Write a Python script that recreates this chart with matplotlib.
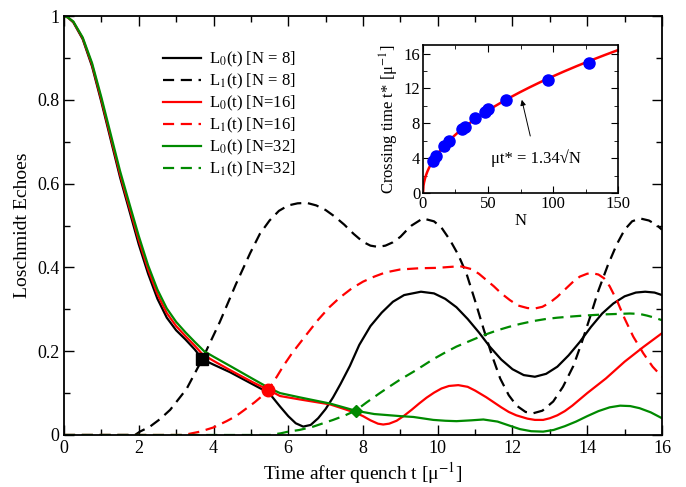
import numpy as np
import matplotlib.pyplot as plt
from matplotlib.ticker import MultipleLocator, FormatStrFormatter

plt.rcParams['font.family'] = ['Liberation Serif', 'DejaVu Serif']
plt.rcParams['mathtext.fontset'] = 'stix'

# ---- main panel data ----
t_l0_n8 = [0, 0.1, 0.25, 0.5, 0.75, 1.0, 1.25, 1.5, 1.75, 2.0, 2.25, 2.5,
           2.75, 3.0, 3.25, 3.5, 3.7, 4.0, 4.44, 5.07, 5.49, 5.78, 6.0, 6.2,
           6.4, 6.6, 6.8, 7.0, 7.2, 7.4, 7.65, 7.9, 8.2, 8.5, 8.8, 9.1, 9.55,
           9.9, 10.2, 10.5, 10.8, 11.1, 11.4, 11.7, 12.0, 12.3, 12.6, 12.9,
           13.2, 13.5, 13.8, 14.1, 14.4, 14.7, 15.0, 15.3, 15.55, 15.8, 16.0]
l0_n8 = [1.0, 0.997, 0.985, 0.945, 0.88, 0.795, 0.705, 0.615, 0.535, 0.455,
         0.385, 0.325, 0.28, 0.25, 0.228, 0.204, 0.181, 0.168, 0.15, 0.12,
         0.1, 0.068, 0.045, 0.028, 0.02, 0.024, 0.04, 0.062, 0.09, 0.122,
         0.165, 0.215, 0.26, 0.292, 0.318, 0.334, 0.342, 0.338, 0.325, 0.305,
         0.277, 0.245, 0.21, 0.18, 0.157, 0.143, 0.139, 0.146, 0.163, 0.19,
         0.222, 0.258, 0.29, 0.314, 0.331, 0.34, 0.342, 0.34, 0.334]

t_l1_n8 = [0, 1.9, 2.03, 2.3, 2.57, 2.84, 3.28, 3.7, 4.17, 4.6, 4.98, 5.24,
           5.5, 5.75, 6.0, 6.25, 6.5, 6.75, 7.0, 7.25, 7.5, 7.75, 8.0, 8.2,
           8.4, 8.6, 8.8, 9.0, 9.15, 9.3, 9.6, 9.9, 10.1, 10.33, 10.55, 10.77,
           11.0, 11.22, 11.45, 11.67, 11.9, 12.11, 12.35, 12.56, 12.8, 13.09,
           13.35, 13.63, 13.85, 14.07, 14.3, 14.55, 14.79, 15.0, 15.2, 15.41,
           15.65, 15.86, 16.0]
l1_n8 = [0, 0, 0.008, 0.02, 0.038, 0.06, 0.11, 0.181, 0.27, 0.36, 0.434,
         0.48, 0.512, 0.535, 0.548, 0.553, 0.554, 0.548, 0.537, 0.521, 0.502,
         0.48, 0.461, 0.452, 0.449, 0.452, 0.46, 0.473, 0.487, 0.5, 0.517,
         0.51, 0.495, 0.465, 0.43, 0.385, 0.32, 0.255, 0.19, 0.135, 0.095,
         0.07, 0.055, 0.052, 0.058, 0.08, 0.115, 0.165, 0.22, 0.28, 0.345,
         0.405, 0.455, 0.49, 0.51, 0.517, 0.512, 0.501, 0.49]

t_l0_n16 = [0, 0.1, 0.25, 0.5, 0.75, 1.0, 1.25, 1.5, 1.75, 2.0, 2.25, 2.5,
            2.75, 3.0, 3.25, 3.5, 3.7, 4.0, 4.44, 5.07, 5.49, 5.78, 6.3, 7.12,
            7.5, 7.83, 8.0, 8.2, 8.4, 8.54, 8.7, 8.9, 9.1, 9.3, 9.5, 9.7, 9.9,
            10.1, 10.3, 10.55, 10.8, 11.0, 11.3, 11.5, 11.7, 11.9, 12.1, 12.4,
            12.6, 12.82, 13.0, 13.2, 13.4, 13.6, 13.8, 14.0, 14.5, 15.0, 15.5,
            16.0]
l0_n16 = [1.0, 0.997, 0.986, 0.947, 0.884, 0.8, 0.711, 0.622, 0.543, 0.465,
          0.395, 0.336, 0.291, 0.26, 0.236, 0.213, 0.193, 0.177, 0.155, 0.125,
          0.107, 0.093, 0.085, 0.073, 0.062, 0.052, 0.045, 0.035, 0.027,
          0.025, 0.027, 0.034, 0.046, 0.06, 0.075, 0.089, 0.101, 0.111, 0.117,
          0.119, 0.115, 0.106, 0.09, 0.078, 0.066, 0.055, 0.047, 0.039, 0.036,
          0.036, 0.04, 0.047, 0.057, 0.07, 0.085, 0.1, 0.135, 0.175, 0.21,
          0.243]

t_l1_n16 = [0, 3.2, 3.64, 4.0, 4.35, 4.6, 4.8, 5.1, 5.3, 5.46, 5.7, 5.87,
            6.1, 6.49, 6.8, 7.1, 7.38, 7.7, 8.0, 8.3, 8.6, 8.99, 9.5, 10.0,
            10.3, 10.6, 10.9, 11.1, 11.3, 11.5, 11.7, 11.93, 12.15, 12.4, 12.6,
            12.8, 13.0, 13.2, 13.4, 13.6, 13.8, 14.0, 14.15, 14.3, 14.45, 14.6,
            14.8, 15.0, 15.23, 15.5, 15.75, 16.0]
l1_n16 = [0, 0, 0.008, 0.018, 0.033, 0.045, 0.058, 0.078, 0.093, 0.107, 0.14,
          0.165, 0.195, 0.24, 0.275, 0.305, 0.328, 0.35, 0.366, 0.378, 0.388,
          0.395, 0.398, 0.399, 0.401, 0.403, 0.396, 0.385, 0.37, 0.355, 0.338,
          0.322, 0.309, 0.303, 0.302, 0.306, 0.316, 0.33, 0.347, 0.364, 0.378,
          0.385, 0.386, 0.383, 0.374, 0.355, 0.32, 0.278, 0.235, 0.195, 0.163,
          0.139]

t_l0_n32 = [0, 0.1, 0.25, 0.5, 0.75, 1.0, 1.25, 1.5, 1.75, 2.0, 2.25, 2.5,
            2.75, 3.0, 3.25, 3.5, 3.75, 4.0, 4.44, 5.07, 5.49, 5.78, 6.3, 7.12,
            7.8, 8.3, 9.0, 9.35, 9.88, 10.2, 10.5, 10.9, 11.22, 11.6, 11.93,
            12.2, 12.5, 12.82, 13.1, 13.4, 13.7, 14.0, 14.3, 14.6, 14.88,
            15.15, 15.4, 15.7, 16.0]
l0_n32 = [1.0, 0.997, 0.987, 0.949, 0.888, 0.806, 0.718, 0.63, 0.552, 0.475,
          0.405, 0.347, 0.302, 0.27, 0.245, 0.222, 0.2, 0.187, 0.165, 0.133,
          0.112, 0.1, 0.09, 0.075, 0.058, 0.05, 0.045, 0.043, 0.036, 0.034,
          0.033, 0.035, 0.037, 0.032, 0.022, 0.014, 0.009, 0.008, 0.012,
          0.021, 0.032, 0.045, 0.057, 0.066, 0.07, 0.069, 0.064, 0.054, 0.04]

t_l1_n32 = [0, 5.5, 5.8, 6.0, 6.3, 6.67, 7.0, 7.2, 7.5, 7.8, 8.1, 8.45, 8.75,
            8.99, 9.35, 9.6, 9.88, 10.2, 10.5, 10.9, 11.22, 11.6, 11.9, 12.2,
            12.56, 12.9, 13.2, 13.6, 13.9, 14.5, 15.14, 15.4, 15.6, 15.8, 16.0]
l1_n32 = [0, 0, 0.004, 0.008, 0.012, 0.02, 0.03, 0.036, 0.046, 0.058, 0.078,
          0.1, 0.118, 0.132, 0.151, 0.165, 0.181, 0.197, 0.211, 0.226, 0.238,
          0.25, 0.258, 0.265, 0.272, 0.277, 0.28, 0.283, 0.285, 0.288, 0.29,
          0.289, 0.285, 0.28, 0.274]

# crossing points L0 = L1
cross_t = [3.7, 5.46, 7.8]
cross_y = [0.181, 0.107, 0.058]

legend_labels = ['L$_0$(t) [N = 8]', 'L$_1$(t) [N = 8]',
                 'L$_0$(t) [N=16]', 'L$_1$(t) [N=16]',
                 'L$_0$(t) [N=32]', 'L$_1$(t) [N=32]']

# ---- inset data ----
N_sizes = [8, 10, 16, 20, 30, 32, 40, 48, 50, 64, 96, 128]
t_cross = [3.7, 4.2, 5.4, 6.0, 7.3, 7.6, 8.6, 9.3, 9.6, 10.7, 13.0, 14.9]
fit_coef = 1.34


def main():
    fig = plt.figure(figsize=(6.86, 4.87), dpi=100)
    ax = fig.add_axes([0.0933, 0.1068, 0.8717, 0.8602])

    dash = (5, 3)
    lw = 1.6
    curves = [
        (t_l0_n8, l0_n8, 'black', '-'),
        (t_l1_n8, l1_n8, 'black', '--'),
        (t_l0_n16, l0_n16, 'red', '-'),
        (t_l1_n16, l1_n16, 'red', '--'),
        (t_l0_n32, l0_n32, '#008a00', '-'),
        (t_l1_n32, l1_n32, '#008a00', '--'),
    ]
    for (tt, yy, col, ls), lab in zip(curves, legend_labels):
        line, = ax.plot(tt, yy, color=col, lw=lw, label=lab)
        if ls == '--':
            line.set_dashes(dash)

    ax.plot(cross_t[0], cross_y[0], 's', color='black', ms=8.5)
    ax.plot(cross_t[1], cross_y[1], 'o', color='red', ms=9)
    ax.plot(cross_t[2], cross_y[2], 'D', color='#008a00', ms=6.5)

    ax.set_xlim(0, 16)
    ax.set_ylim(0, 1)
    ax.xaxis.set_major_locator(MultipleLocator(2))
    ax.xaxis.set_minor_locator(MultipleLocator(1))
    ax.yaxis.set_major_locator(MultipleLocator(0.2))
    ax.yaxis.set_minor_locator(MultipleLocator(0.1))
    ax.yaxis.set_major_formatter(FormatStrFormatter('%g'))
    ax.tick_params(which='both', direction='in', top=True, right=True,
                   labelsize=13)
    ax.tick_params(which='major', length=7, width=1)
    ax.tick_params(which='minor', length=4, width=1)
    for sp in ax.spines.values():
        sp.set_linewidth(1.3)
    ax.set_xlabel('Time after quench t [μ$^{-1}$]', fontsize=14, labelpad=2)
    ax.set_ylabel('Loschmidt Echoes', fontsize=14, labelpad=4)

    ax.legend(loc='upper left', bbox_to_anchor=(0.14, 0.955), frameon=False,
              fontsize=12, handlelength=2.3, handletextpad=0.5,
              labelspacing=0.17)

    # ---- inset ----
    ins = fig.add_axes([0.6166, 0.6037, 0.2843, 0.304])
    ins.set_facecolor('white')
    N_fit = np.linspace(0, 150, 400)
    ins.plot(N_fit, fit_coef * np.sqrt(N_fit), color='red', lw=1.8, zorder=2)
    ins.plot(N_sizes, t_cross, 'o', color='blue', ms=8, zorder=3)
    ins.set_xlim(0, 150)
    ins.set_ylim(0, 17)
    ins.xaxis.set_major_locator(MultipleLocator(50))
    ins.xaxis.set_minor_locator(MultipleLocator(25))
    ins.yaxis.set_major_locator(MultipleLocator(4))
    ins.yaxis.set_minor_locator(MultipleLocator(2))
    ins.tick_params(which='both', direction='in', top=True, right=True,
                    labelsize=12, pad=2)
    ins.tick_params(which='major', length=5)
    ins.tick_params(which='minor', length=3)
    for sp in ins.spines.values():
        sp.set_linewidth(1.2)
    ins.set_xlabel('N', fontsize=12, labelpad=1)
    ins.set_ylabel('Crossing time t* [μ$^{-1}$]', fontsize=12, labelpad=2)
    ins.annotate('μt* = 1.34√N', xy=(76, 10.7), xytext=(52, 3.4),
                 fontsize=12,
                 arrowprops=dict(arrowstyle='-|>', color='black', lw=0.7,
                                 shrinkA=8, shrinkB=0, mutation_scale=8))

    fig.savefig('out.png', dpi=100)


if __name__ == "__main__":
    main()
